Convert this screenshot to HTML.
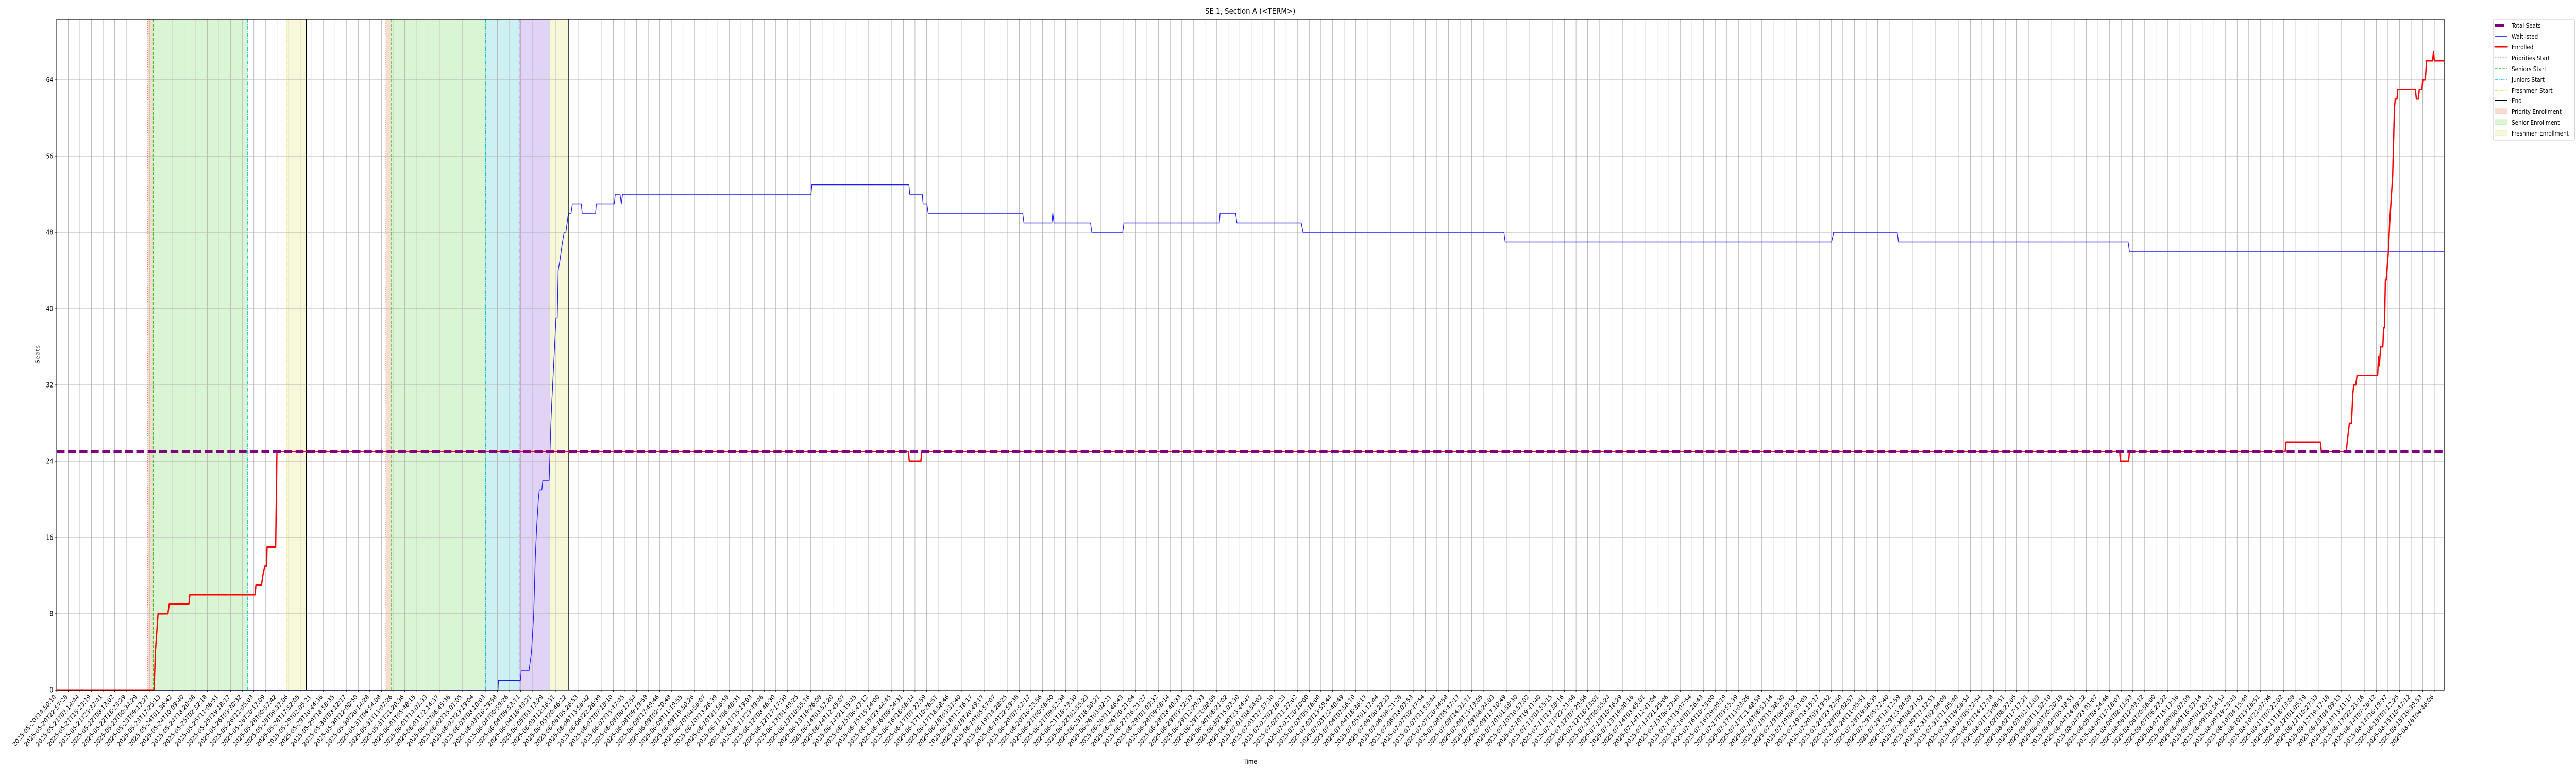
<!DOCTYPE html>
<html><head><meta charset="utf-8"><title>SE 1, Section A</title>
<style>
html,body{margin:0;padding:0;background:#fff;width:100%;height:100%;overflow:hidden;}
svg{display:block;width:100vw;height:100vh;font-family:"DejaVu Sans","Liberation Sans",sans-serif;}
</style></head>
<body>
<svg id="chart" xmlns="http://www.w3.org/2000/svg" viewBox="0 0 6000 1500" preserveAspectRatio="none" overflow="hidden">
  <rect x="0" y="0" width="6000" height="1500" fill="#fff"/>
  <g id="regions"></g>
  <g id="grid"></g>
  <g id="vlines"></g>
  <g id="series"></g>
  <rect x="132" y="37" width="5561" height="1302" fill="none" stroke="#000" stroke-width="1.2"/>
  <g id="xticks"></g>
  <g id="yticks"></g>
  <text x="2912" y="27" font-size="16" text-anchor="middle">SE 1, Section A (&lt;TERM&gt;)</text>
  <text x="2912" y="1482" font-size="13" text-anchor="middle">Time</text>
  <text transform="translate(92,688) rotate(-90)" font-size="13" text-anchor="middle">Seats</text>
  <g id="legend">
    <rect x="5807" y="37" width="190" height="235" rx="3" fill="#fff" fill-opacity="0.85" stroke="#ccc" stroke-width="1"/>
    <g><line x1="5811" y1="49" x2="5832" y2="49" stroke="#800080" stroke-width="6"/><text x="5850" y="54" font-size="12.5">Total Seats</text></g>
    <g><line x1="5811" y1="70" x2="5840" y2="70" stroke="#0000ff" stroke-width="1.5"/><text x="5850" y="75" font-size="12.5">Waitlisted</text></g>
    <g><line x1="5810" y1="91" x2="5841" y2="91" stroke="#ff0000" stroke-width="3"/><text x="5850" y="96" font-size="12.5">Enrolled</text></g>
    <g><line x1="5811" y1="112" x2="5840" y2="112" stroke="#f07040" stroke-width="1.5" stroke-dasharray="1.5 2.5"/><text x="5850" y="117" font-size="12.5">Priorities Start</text></g>
    <g><line x1="5811" y1="133" x2="5840" y2="133" stroke="#33cc22" stroke-width="1.5" stroke-dasharray="6 3"/><text x="5850" y="138" font-size="12.5">Seniors Start</text></g>
    <g><line x1="5811" y1="154" x2="5840" y2="154" stroke="#00c8d0" stroke-width="1.5" stroke-dasharray="7 2.5 1.5 2.5"/><text x="5850" y="159" font-size="12.5">Juniors Start</text></g>
    <g><line x1="5811" y1="175" x2="5840" y2="175" stroke="#dddd33" stroke-width="1.5" stroke-dasharray="7 2.5 1.5 2.5"/><text x="5850" y="180" font-size="12.5">Freshmen Start</text></g>
    <g><line x1="5811" y1="195" x2="5840" y2="195" stroke="#000" stroke-width="2"/><text x="5850" y="200" font-size="12.5">End</text></g>
    <g><rect x="5811" y="211" width="29" height="10" fill="#f6ddd2" stroke="#f0d0c0"/><text x="5850" y="221" font-size="12.5">Priority Enrollment</text></g>
    <g><rect x="5811" y="232" width="29" height="10" fill="#daf5d3" stroke="#cdeec5"/><text x="5850" y="242" font-size="12.5">Senior Enrollment</text></g>
    <g><rect x="5811" y="253" width="29" height="10" fill="#f7f7d9" stroke="#eeeec8"/><text x="5850" y="263" font-size="12.5">Freshmen Enrollment</text></g>
  </g>
</svg>
<script>
// ---- data ----
const tickLabels = ["2025-05-20T14:50:10","2025-05-20T22:57:28","2025-05-21T07:14:44","2025-05-21T15:23:19","2025-05-21T23:32:41","2025-05-22T08:13:02","2025-05-22T16:23:29","2025-05-23T00:34:29","2025-05-23T09:13:27","2025-05-23T17:25:13","2025-05-24T01:36:42","2025-05-24T10:09:40","2025-05-24T18:20:48","2025-05-25T02:32:18","2025-05-25T11:06:51","2025-05-25T19:18:17","2025-05-26T03:30:32","2025-05-26T12:05:03","2025-05-26T20:17:09","2025-05-28T00:57:42","2025-05-28T09:37:06","2025-05-28T17:52:05","2025-05-29T02:05:21","2025-05-29T10:44:36","2025-05-29T18:58:35","2025-05-30T03:12:17","2025-05-30T12:00:50","2025-05-30T20:14:28","2025-05-31T04:54:08","2025-05-31T13:07:26","2025-05-31T21:20:36","2025-06-01T05:48:15","2025-06-01T14:01:33","2025-06-01T22:14:37","2025-06-02T06:45:36","2025-06-02T15:01:05","2025-06-02T23:19:04","2025-06-03T08:10:03","2025-06-03T16:29:58","2025-06-04T00:59:26","2025-06-04T09:53:11","2025-06-04T18:43:21","2025-06-05T03:13:29","2025-06-05T12:16:31","2025-06-05T20:46:22","2025-06-06T05:26:53","2025-06-06T13:56:42","2025-06-06T22:26:39","2025-06-07T07:18:10","2025-06-07T15:47:45","2025-06-08T00:17:54","2025-06-08T09:19:58","2025-06-08T17:49:46","2025-06-09T02:20:48","2025-06-09T11:19:55","2025-06-09T19:50:26","2025-06-10T04:56:07","2025-06-10T13:26:39","2025-06-10T21:56:58","2025-06-11T06:48:31","2025-06-11T15:19:03","2025-06-11T23:49:46","2025-06-12T08:46:30","2025-06-12T17:17:30","2025-06-13T01:49:25","2025-06-13T10:55:16","2025-06-13T19:26:08","2025-06-14T03:57:20","2025-06-14T12:45:07","2025-06-14T21:15:45","2025-06-15T06:43:12","2025-06-15T15:14:00","2025-06-15T23:44:45","2025-06-16T08:24:31","2025-06-16T16:56:14","2025-06-17T01:27:59","2025-06-17T10:26:51","2025-06-17T18:58:46","2025-06-18T03:31:40","2025-06-18T12:16:17","2025-06-18T20:49:17","2025-06-19T05:57:07","2025-06-19T14:28:25","2025-06-19T22:59:38","2025-06-20T07:52:17","2025-06-20T16:23:56","2025-06-21T00:56:50","2025-06-21T09:52:38","2025-06-21T18:23:30","2025-06-22T02:55:23","2025-06-25T18:30:21","2025-06-26T03:02:21","2025-06-26T11:46:43","2025-06-26T20:21:04","2025-06-27T16:21:27","2025-06-28T01:03:32","2025-06-28T09:58:14","2025-06-28T18:40:33","2025-06-29T03:22:33","2025-06-29T12:29:33","2025-06-29T21:08:05","2025-06-30T06:21:02","2025-06-30T15:03:30","2025-06-30T23:44:47","2025-07-01T08:54:02","2025-07-01T17:37:30","2025-07-02T02:18:23","2025-07-02T11:27:02","2025-07-02T20:10:00","2025-07-03T05:16:00","2025-07-03T13:59:44","2025-07-03T22:40:49","2025-07-04T07:56:10","2025-07-04T16:36:17","2025-07-05T01:17:44","2025-07-06T00:22:23","2025-07-06T09:21:28","2025-07-06T18:03:53","2025-07-07T02:47:54","2025-07-07T11:53:44","2025-07-07T20:44:58","2025-07-08T05:47:17","2025-07-08T14:31:11","2025-07-08T23:13:05","2025-07-09T08:24:03","2025-07-09T17:10:49","2025-07-10T01:58:30","2025-07-10T10:57:02","2025-07-10T19:41:40","2025-07-11T04:55:15","2025-07-11T13:38:16","2025-07-11T22:21:58","2025-07-12T07:29:56","2025-07-12T16:13:01","2025-07-13T00:55:24","2025-07-13T10:16:29","2025-07-13T19:00:16","2025-07-14T03:45:01","2025-07-14T12:41:04","2025-07-14T21:25:06","2025-07-15T06:23:40","2025-07-15T15:07:54","2025-07-16T01:26:43","2025-07-16T10:23:00","2025-07-16T19:09:19","2025-07-17T03:55:39","2025-07-17T13:03:26","2025-07-17T21:48:58","2025-07-18T06:53:14","2025-07-18T15:38:30","2025-07-19T00:25:52","2025-07-19T09:31:05","2025-07-19T18:15:17","2025-07-20T03:19:52","2025-07-24T23:32:50","2025-07-28T02:02:57","2025-07-28T11:05:51","2025-07-28T19:56:35","2025-07-29T05:22:40","2025-07-29T14:12:59","2025-07-29T23:04:08","2025-07-30T08:21:52","2025-07-30T17:12:51","2025-07-31T02:04:08","2025-07-31T11:05:40","2025-07-31T19:56:54","2025-08-01T05:22:54","2025-08-01T14:17:18","2025-08-01T23:08:51","2025-08-02T08:27:05","2025-08-02T17:17:21","2025-08-03T02:11:03","2025-08-03T11:32:10","2025-08-03T20:20:18","2025-08-04T05:18:51","2025-08-04T14:09:22","2025-08-04T23:01:07","2025-08-05T08:24:46","2025-08-05T17:18:07","2025-08-06T02:11:53","2025-08-06T12:03:12","2025-08-06T20:56:00","2025-08-07T06:23:22","2025-08-07T15:13:36","2025-08-08T00:07:09","2025-08-08T16:33:14","2025-08-09T01:25:21","2025-08-09T10:34:14","2025-08-09T19:23:43","2025-08-10T04:15:49","2025-08-10T13:16:51","2025-08-10T22:07:36","2025-08-11T07:22:02","2025-08-11T16:13:08","2025-08-12T01:05:19","2025-08-12T10:27:33","2025-08-12T19:17:18","2025-08-13T04:09:13","2025-08-13T13:11:17","2025-08-13T22:21:16","2025-08-14T07:26:12","2025-08-14T16:19:37","2025-08-15T01:12:25","2025-08-15T10:47:12","2025-08-15T19:39:53","2025-08-16T04:46:06"];
const yTickValues = [0, 8, 16, 24, 32, 40, 48, 56, 64];
const totalSeats = 25;
// x positions are in tick-index units
const enrolledX = [0,8.40,8.51,8.74,9.59,9.70,11.40,11.48,17.10,17.18,17.66,17.77,17.95,18.10,18.14,18.88,18.99,73.44,73.51,74.51,74.59,177.87,177.94,178.64,178.71,192.14,192.22,195.18,195.26,197.41,197.49,197.68,197.86,197.97,198.05,198.23,198.34,200.11,200.19,200.26,200.37,200.56,200.63,200.70,200.78,200.85,201.04,201.15,201.41,201.56,201.63,201.78,201.85,203.37,203.45,203.63,203.70,203.93,204.00,204.22,204.33,204.85,204.93,205.00,205.82];
const enrolledY = [0,0,4,8,8,9,9,10,10,11,11,12,13,13,15,15,25,25,24,24,25,25,24,24,25,25,26,26,25,25,26,28,28,31,32,32,33,33,35,34,36,36,38,38,43,43,46,49,54,61,62,62,63,63,62,62,63,63,64,64,66,66,67,66,66];
const waitX = [0,38.05,38.09,39.98,40.05,40.72,40.94,41.13,41.27,41.38,41.53,41.61,41.83,41.91,42.46,42.61,42.68,43.05,43.16,43.24,43.38,43.49,43.61,43.75,43.90,44.12,44.35,44.46,45.23,45.31,46.46,46.53,48.08,48.16,48.57,48.68,48.79,65.04,65.11,73.48,73.55,74.63,74.70,75.03,75.14,83.29,83.40,85.80,85.88,85.99,89.14,89.25,91.91,92.02,100.24,100.31,101.65,101.76,107.31,107.46,124.78,124.89,153.03,153.21,158.69,158.80,178.60,178.71,205.82];
const waitY = [0,0,1,1,2,2,4,8,14,17,20,21,21,22,22,28,30,39,39,44,45,46,47,48,48,50,50,51,51,50,50,51,51,52,52,51,52,52,53,53,52,52,51,51,50,50,49,49,50,49,49,48,48,49,49,50,50,49,49,48,48,47,47,48,48,47,47,46,46];
const regionStart = [7.85, 8.33, 19.80, 28.39, 28.87, 36.98, 39.87, 42.53];
const regionEnd   = [8.33, 16.47, 21.51, 28.87, 36.98, 39.87, 42.53, 44.16];
const regionKind  = ["priority","senior","freshmen","priority","senior","junior","sophomore","freshmen"];
const phaseLineX    = [7.85, 8.33, 16.47, 19.80, 21.51, 28.39, 28.87, 36.98, 39.87, 42.53, 44.16];
const phaseLineKind = ["priorities-start","seniors-start","juniors-start","freshmen-start","end","priorities-start","seniors-start","juniors-start","sophomores-start","freshmen-start","end"];

// ---- scales ----
const X0 = 132, X1 = 5693, Y0 = 1339, Y1 = 37;
const TICK_STEP = (5670 - 132) / 205;
function xs(i){ return X0 + i * TICK_STEP; }
const PX_PER_SEAT = 18.5;
function ys(v){ return Y0 - v * PX_PER_SEAT; }

const NS = "http://www.w3.org/2000/svg";
function mk(tag, attrs, parent){
  const el = document.createElementNS(NS, tag);
  for (const k in attrs) el.setAttribute(k, attrs[k]);
  parent.appendChild(el);
  return el;
}
const fillColors = {priority:"#f6ddd2", senior:"#daf5d3", junior:"#cdf1f2", sophomore:"#e1d3f5", freshmen:"#f7f7d9"};
const lineStyles = {
  "priorities-start":{c:"#f07040", d:"1.5 2.5", w:1.5},
  "seniors-start":{c:"#33cc22", d:"6 3", w:1.5},
  "juniors-start":{c:"#00c8d0", d:"7 2.5 1.5 2.5", w:1.5},
  "sophomores-start":{c:"#8a2be2", d:"7 2.5 1.5 2.5", w:1.5},
  "freshmen-start":{c:"#dddd33", d:"7 2.5 1.5 2.5", w:1.5},
  "end":{c:"#000000", d:"none", w:2}
};

const gR = document.getElementById("regions");
for (let i = 0; i < regionStart.length; i++){
  const r = mk("rect", {x: xs(regionStart[i]), y: Y1, width: xs(regionEnd[i]) - xs(regionStart[i]), height: Y0 - Y1, fill: fillColors[regionKind[i]]}, gR);
  
  
}

const gG = document.getElementById("grid");
for (let i = 0; i < tickLabels.length; i++){
  const l = mk("line", {x1: xs(i), x2: xs(i), y1: Y1, y2: Y0, stroke:"#b0b0b0", "stroke-width":1}, gG);
  
  
}
for (const v of yTickValues){
  const l = mk("line", {x1: X0, x2: X1, y1: ys(v), y2: ys(v), stroke:"#b0b0b0", "stroke-width":1}, gG);
  
  
}

const gV = document.getElementById("vlines");
for (let i = 0; i < phaseLineX.length; i++){
  const s = lineStyles[phaseLineKind[i]];
  const l = mk("line", {x1: xs(phaseLineX[i]), x2: xs(phaseLineX[i]), y1: Y1, y2: Y0, stroke: s.c, "stroke-width": s.w, "stroke-dasharray": s.d}, gV);
  
  
}

const gS = document.getElementById("series");
function pts(xa, ya){ return xa.map((x, i) => xs(x).toFixed(2) + "," + ys(ya[i]).toFixed(2)).join(" "); }
const wl = mk("polyline", {points: pts(waitX, waitY), fill:"none", stroke:"#1a1aff", "stroke-width":1.6, "stroke-linejoin":"round"}, gS);


const en = mk("polyline", {points: pts(enrolledX, enrolledY), fill:"none", stroke:"#ff0000", "stroke-width":3, "stroke-linejoin":"round"}, gS);


const ts = mk("line", {x1: X0, x2: X1, y1: ys(totalSeats), y2: ys(totalSeats), stroke:"#800080", "stroke-width":5, "stroke-dasharray":"18.5 8"}, gS);



const gX = document.getElementById("xticks");
for (let i = 0; i < tickLabels.length; i++){
  const t = mk("line", {x1: xs(i), x2: xs(i), y1: Y0, y2: Y0 + 4, stroke:"#000", "stroke-width":1}, gX);
  
  
  const tx = mk("text", {transform: "translate(" + (xs(i) - 1).toFixed(2) + "," + (Y0 + 14) + ") rotate(-45)", "text-anchor":"end", "font-size":"12.5"}, gX);
  tx.textContent = tickLabels[i];
  
  
}
const gY = document.getElementById("yticks");
for (const v of yTickValues){
  const t = mk("line", {x1: X0 - 4, x2: X0, y1: ys(v), y2: ys(v), stroke:"#000", "stroke-width":1}, gY);
  
  
  const tx = mk("text", {x: X0 - 8, y: ys(v) + 4.5, "text-anchor":"end", "font-size":"13"}, gY);
  tx.textContent = String(v);
  
  
}
</script>
</body></html>
